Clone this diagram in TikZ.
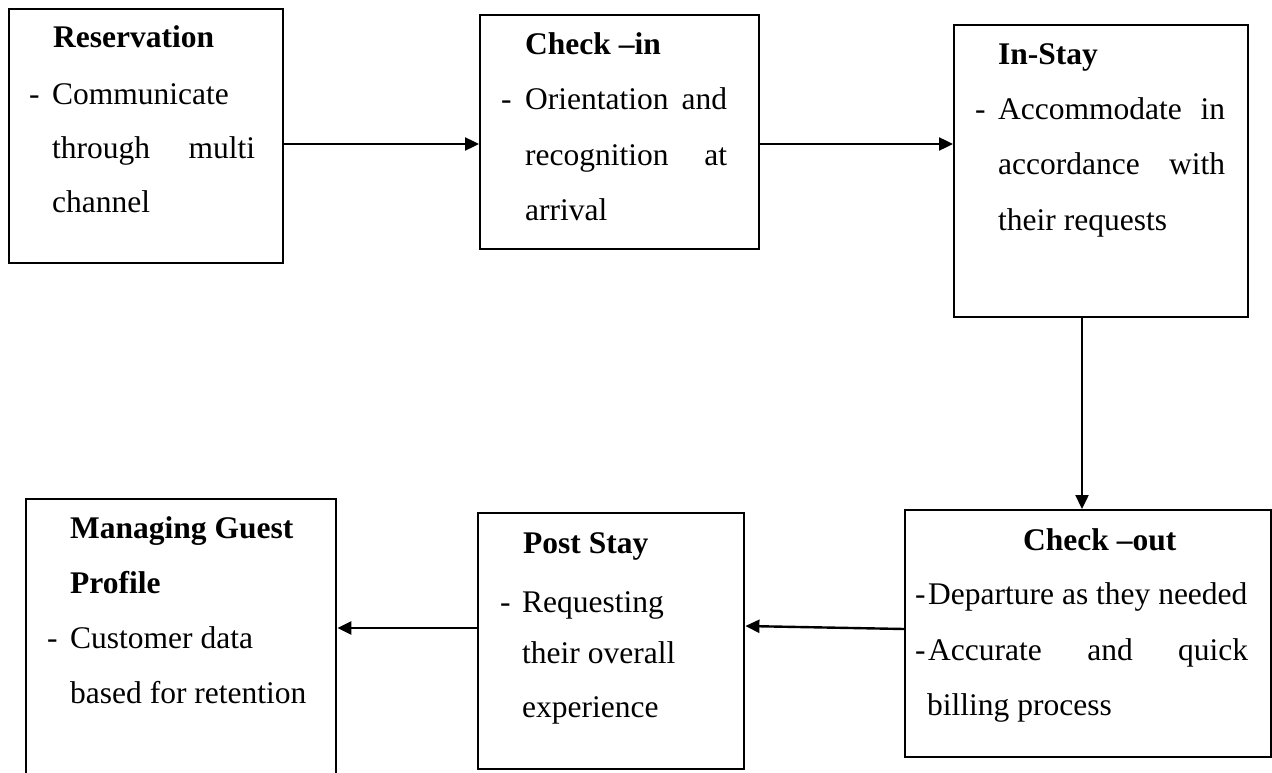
\documentclass[tikz,border=0pt]{standalone}
\usepackage{fontspec}
\setmainfont{Liberation Serif}
\usetikzlibrary{arrows.meta}
\tikzset{
  box/.style={draw, line width=2.4pt, rectangle, inner sep=0pt, anchor=north west},
  txt/.style={inner sep=0pt, anchor=base west, font=\fontsize{31.5}{38}\selectfont},
  head/.style={txt, font=\fontsize{31.5}{38}\selectfont\bfseries},
  arr/.style={line width=2.4pt, -{Triangle[length=14pt,width=13pt]}}
}
\newcommand{\jline}[2]{\hbox to #1pt{#2}}
\begin{document}
\begin{tikzpicture}[x=1pt,y=-1pt]
\useasboundingbox (0,0) rectangle (1272,773);
\clip (0,0) rectangle (1272,773);

% process boxes
\node[box, minimum width=274pt, minimum height=254pt] (res) at (8,8) {};
\node[box, minimum width=279pt, minimum height=234pt] (ci) at (479,14) {};
\node[box, minimum width=294pt, minimum height=292pt] (is) at (953,24) {};
\node[box, minimum width=366pt, minimum height=247pt] (co) at (904,509) {};
\node[box, minimum width=266pt, minimum height=256pt] (ps) at (477,512) {};
\node[box, minimum width=310pt, minimum height=300pt] (mg) at (25,498) {};

% Reservation
\node[head] (resH) at (53,48) {Reservation};
\node[txt] (resD) at (29,105) {-};
\node[txt] (resA) at (52,105) {Communicate};
\node[txt] (resB) at (52,158) {\jline{203}{through\hfill multi}};
\node[txt] (resC) at (52,212) {channel};

% Check-in
\node[head] (ciH) at (525,55) {Check –in};
\node[txt] (ciD) at (501,110) {-};
\node[txt] (ciA) at (525,110) {\jline{202}{Orientation\hfill and}};
\node[txt] (ciB) at (525,165) {\jline{202}{recognition\hfill at}};
\node[txt] (ciC) at (525,220) {arrival};

% In-Stay
\node[head] (isH) at (998,65) {In-Stay};
\node[txt] (isD) at (975,120) {-};
\node[txt] (isA) at (998,120) {\jline{227}{Accommodate\hfill in}};
\node[txt] (isB) at (998,175) {\jline{227}{accordance\hfill with}};
\node[txt] (isC) at (998,230) {their requests};

% Check-out
\node[head] (coH) at (1023,550) {Check –out};
\node[txt] (coD1) at (915,604) {-};
\node[txt] (coA) at (928,604) {Departure as they needed};
\node[txt] (coD2) at (915,660) {-};
\node[txt] (coB) at (928,660) {\jline{320}{Accurate\hfill and\hfill quick}};
\node[txt] (coC) at (927,715) {billing process};

% Post Stay
\node[head] (psH) at (523,553) {Post Stay};
\node[txt] (psD) at (500,612) {-};
\node[txt] (psA) at (522,612) {Requesting};
\node[txt] (psB) at (522,663) {their overall};
\node[txt] (psC) at (522,717) {experience};

% Managing Guest Profile
\node[head] (mgH1) at (70,538) {Managing Guest};
\node[head] (mgH2) at (70,593) {Profile};
\node[txt] (mgD) at (47,648) {-};
\node[txt] (mgA) at (70,648) {Customer data};
\node[txt] (mgB) at (70,703) {based for retention};

% flow
\draw[arr] (res.east |- 0,144) -- (ci.west |- 0,144);
\draw[arr] (ci.east |- 0,144) -- (is.west |- 0,144);
\draw[arr] (is.south -| 1082,0) -- (co.north -| 1082,0);
\draw[arr] (co.west |- 0,629) -- (ps.east |- 0,626);
\draw[arr] (ps.west |- 0,628) -- (mg.east |- 0,628);
\end{tikzpicture}
\end{document}
